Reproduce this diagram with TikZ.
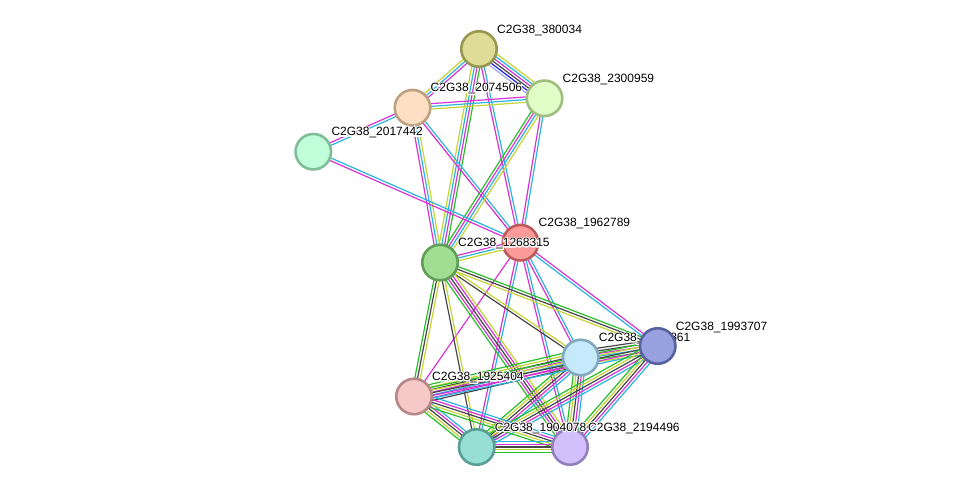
\documentclass[tikz,border=0pt]{standalone}
\usepackage{fontspec}
\setmainfont{Liberation Sans}
\newfontfamily\haloface[FakeBold=18]{Liberation Sans}
\usetikzlibrary{calc}
\definecolor{cnb}{RGB}{40,190,40}
\definecolor{ctm}{RGB}{196,212,50}
\definecolor{cdb}{RGB}{40,180,225}
\definecolor{cex}{RGB}{215,50,215}
\definecolor{cco}{RGB}{70,70,70}
\definecolor{ccooc}{RGB}{35,35,240}
\definecolor{chom}{RGB}{165,165,245}
\definecolor{fA}{RGB}{222,220,150}\definecolor{bA}{RGB}{152,152,82}
\definecolor{fB}{RGB}{226,254,200}\definecolor{bB}{RGB}{160,190,128}
\definecolor{fC}{RGB}{253,223,195}\definecolor{bC}{RGB}{190,160,130}
\definecolor{fD}{RGB}{193,255,219}\definecolor{bD}{RGB}{128,190,152}
\definecolor{fE}{RGB}{253,154,154}\definecolor{bE}{RGB}{190,90,90}
\definecolor{fF}{RGB}{160,222,146}\definecolor{bF}{RGB}{96,158,88}
\definecolor{fG}{RGB}{151,161,224}\definecolor{bG}{RGB}{88,97,160}
\definecolor{fH}{RGB}{197,234,253}\definecolor{bH}{RGB}{132,168,190}
\definecolor{fI}{RGB}{246,200,200}\definecolor{bI}{RGB}{182,136,136}
\definecolor{fJ}{RGB}{151,223,213}\definecolor{bJ}{RGB}{87,159,149}
\definecolor{fK}{RGB}{210,192,253}\definecolor{bK}{RGB}{146,128,190}
\newcommand\strEdge[3]{%
  \foreach \c [count=\i] in {#3} {\xdef\nE{\i}}%
  \foreach \c [count=\i] in {#3} {%
    \pgfmathsetmacro\off{(\i-(\nE+1)/2)*2.7}%
    \draw[edgeline,\c] ($(#1)!\off pt!90:(#2)$) -- ($(#2)!\off pt!-90:(#1)$);
  }}
\newcommand\strNode[2]{% name, label
  \node[protein,fill=f#1,draw=b#1] (#1-c) at (#1) {};
  \node[lbl,text=white,font=\haloface\fontsize{12}{14}\selectfont] at ($(#1)+(18,-16)$) {\color{white}#2};
  \node[lbl] (#1-l) at ($(#1)+(18,-16)$) {#2};}
\begin{document}
\begin{tikzpicture}[x=1pt,y=-1pt,
  edgeline/.style={line width=1.2pt},
  protein/.style={circle,minimum size=35.5pt,inner sep=0pt,line width=2.6pt},
  lbl/.style={anchor=base west,inner sep=0pt,font=\fontsize{12}{14}\selectfont,text=black}]
\useasboundingbox (0,0) rectangle (975,493);
\coordinate (A) at (479,49);
\coordinate (B) at (544.5,98.3);
\coordinate (C) at (412.5,107.7);
\coordinate (D) at (313.3,151.7);
\coordinate (E) at (520.5,242.7);
\coordinate (F) at (440,262.5);
\coordinate (G) at (657.7,346);
\coordinate (H) at (580.7,357.5);
\coordinate (I) at (414,396.5);
\coordinate (J) at (476.7,447);
\coordinate (K) at (570,447);
% edges
\strEdge{A}{B}{chom,ccooc,cco,cex,cdb,ctm}
\strEdge{A}{C}{ctm,cdb,cex}
\strEdge{A}{F}{ctm,cdb,cex,cnb}
\strEdge{A}{E}{cex,cdb}
\strEdge{C}{B}{ctm,cdb,cex}
\strEdge{C}{D}{cex,cdb}
\strEdge{C}{F}{cex,cdb,ctm}
\strEdge{C}{E}{cex,cdb}
\strEdge{B}{F}{cnb,cex,cdb,ctm}
\strEdge{B}{E}{cex,cdb}
\strEdge{D}{E}{cex,cdb}
\strEdge{E}{F}{cex,cdb,ctm}
\strEdge{E}{G}{cdb,cex}
\strEdge{E}{H}{cex,cdb}
\strEdge{E}{I}{cex}
\strEdge{E}{J}{cex,cdb}
\strEdge{E}{K}{cex,cdb}
\strEdge{F}{G}{ctm,cco,cnb}
\strEdge{F}{H}{cco,ctm}
\strEdge{F}{I}{cnb,cco,ctm}
\strEdge{F}{J}{cco,ctm}
\strEdge{F}{K}{cnb,cex,cco,cex,ctm}
\strEdge{H}{G}{ctm,cnb,cdb,cex,cco,cco}
\strEdge{H}{I}{cnb,ctm,cco,cex,cdb,cex,cco}
\strEdge{H}{J}{cnb,ctm,cco,cex,cdb}
\strEdge{H}{K}{cnb,ctm,cco,cex,cdb}
\strEdge{G}{I}{cnb,ctm,cco,cex,cdb}
\strEdge{G}{J}{cnb,ctm,cco,cex,cdb}
\strEdge{G}{K}{cnb,ctm,cco,cex,cdb}
\strEdge{I}{J}{cnb,ctm,cco,cex,cdb}
\strEdge{I}{K}{cnb,ctm,cco,cex,cdb}
\strEdge{J}{K}{cnb,ctm,cco,cex,cdb}
% nodes
\strNode{A}{C2G38\_380034}
\strNode{B}{C2G38\_2300959}
\strNode{C}{C2G38\_2074506}
\strNode{D}{C2G38\_2017442}
\strNode{E}{C2G38\_1962789}
\strNode{F}{C2G38\_1268315}
\strNode{H}{C2G38\_1948861}
\strNode{G}{C2G38\_1993707}
\strNode{I}{C2G38\_1925404}
\strNode{K}{C2G38\_2194496}
\strNode{J}{C2G38\_1904078}
\end{tikzpicture}
\end{document}
